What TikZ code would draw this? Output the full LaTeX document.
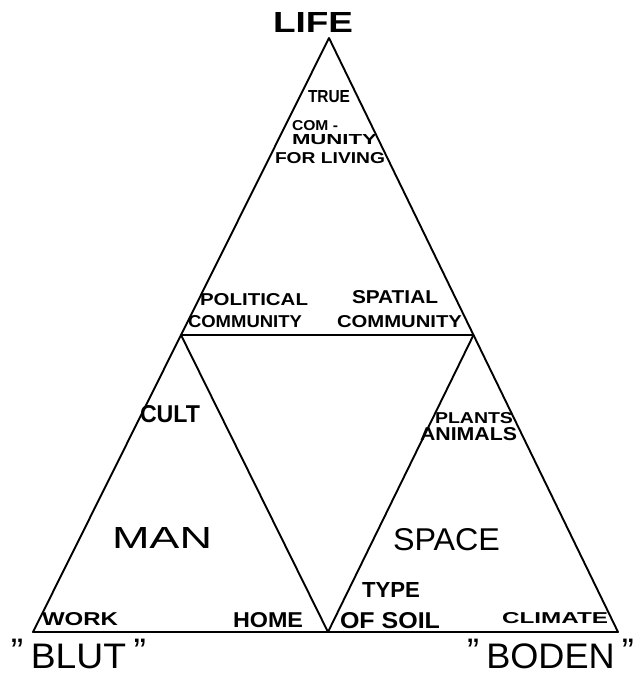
\documentclass[tikz,border=0pt]{standalone}
\usepackage{fontspec}
\setmainfont{Liberation Sans}
\usepackage{graphicx}
\usetikzlibrary{calc}
\newcommand\hwtext[3]{\resizebox{#1pt}{#2pt}{#3}}
\begin{document}
\begin{tikzpicture}[x=1pt,y=-1pt,
  edge/.style={line width=1.9pt, line join=round, line cap=round},
  lbl/.style={inner sep=0pt, outer sep=0pt, anchor=north west},
  small/.style={lbl, font=\bfseries}]
\fill[white] (0,0) rectangle (643,675);
\useasboundingbox (0,0) rectangle (643,675);
% vertices
\coordinate (A) at (329,38);
\coordinate (BL) at (33,632);
\coordinate (BR) at (618,632);
\coordinate (M) at (328,632);
\coordinate (L) at ($(A)!0.5!(BL)$);
\coordinate (R) at ($(A)!0.5!(BR)$);
% triangle structure
\draw[edge] (A) -- (BL) -- (BR) -- cycle;
\draw[edge] (L) -- (R);
\draw[edge] (L) -- (M) -- (R);
% labels
\node[small] (life) at (273,12) {\hwtext{80}{20}{LIFE}};
\node[small] (true) at (308,90) {\hwtext{42}{12}{TRUE}};
\node[small] (com) at (292,120) {\hwtext{46}{10}{COM -}};
\node[small] (munity) at (292,134) {\hwtext{85}{10}{MUNITY}};
\node[small] (forliving) at (275,152) {\hwtext{110}{11}{FOR LIVING}};
\node[small] (political) at (200,293) {\hwtext{108}{12}{POLITICAL}};
\node[small] (commL) at (188,315) {\hwtext{114}{12}{COMMUNITY}};
\node[small] (spatial) at (352,290) {\hwtext{86}{13}{SPATIAL}};
\node[small] (commR) at (337,315) {\hwtext{125}{12}{COMMUNITY}};
\node[small] (cult) at (140,405) {\hwtext{60}{17}{CULT}};
\node[small] (plants) at (435,412) {\hwtext{78}{11}{PLANTS}};
\node[small] (animals) at (420,427) {\hwtext{97}{13}{ANIMALS}};
\node[lbl] (man) at (112,527) {\hwtext{100}{21}{MAN}};
\node[lbl] (space) at (393,528) {\hwtext{107}{22}{SPACE}};
\node[small] (type) at (362,582) {\hwtext{58}{15}{TYPE}};
\node[small] (work) at (42,612) {\hwtext{76}{13}{WORK}};
\node[small] (home) at (233,612) {\hwtext{70}{15}{HOME}};
\node[small] (ofsoil) at (340,612) {\hwtext{100}{16}{OF SOIL}};
\node[small] (climate) at (502,612) {\hwtext{106}{11}{CLIMATE}};
\node[lbl] (blut) at (11,639) {\hwtext{135}{29}{\raisebox{.13em}{"}\kern.2em BLUT\kern.2em\raisebox{.13em}{"}}};
\node[lbl] (boden) at (467,639) {\hwtext{167}{29}{\raisebox{.13em}{"}\kern.2em BODEN\kern.2em\raisebox{.13em}{"}}};
\end{tikzpicture}
\end{document}
